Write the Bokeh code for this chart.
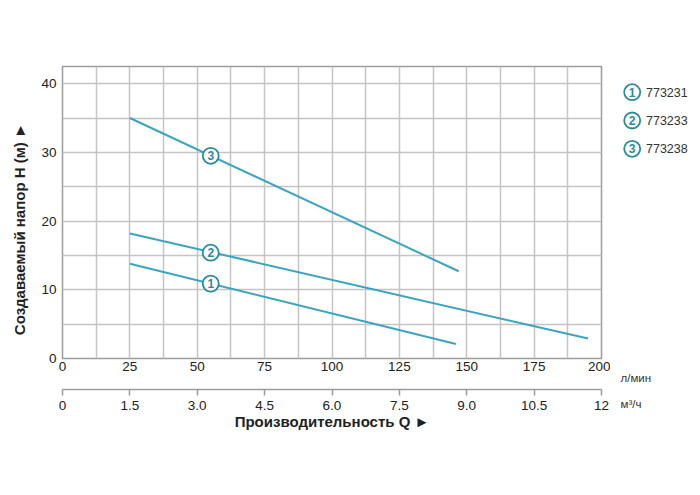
from bokeh.plotting import figure
from bokeh.models import Range1d, LinearAxis, FixedTicker, ColumnDataSource
from bokeh.layouts import row
from bokeh.core.properties import value
from bokeh.embed import file_html
from bokeh.resources import INLINE

# ---------------- data ----------------
series_names = ["773231", "773233", "773238"]
series_ids = ["1", "2", "3"]
s1_q = [25, 146]
s1_h = [13.8, 2.1]
s2_q = [25, 195]
s2_h = [18.2, 2.9]
s3_q = [25, 147]
s3_h = [35.0, 12.7]
marker_q = [55, 55, 55]
marker_h = [10.9, 15.4, 29.5]

q_lmin_ticks = [0, 25, 50, 75, 100, 125, 150, 175, 200]
q_m3h_ticks = [0, 1.5, 3.0, 4.5, 6.0, 7.5, 9.0, 10.5, 12]
q_m3h_labels = ["0", "1.5", "3.0", "4.5", "6.0", "7.5", "9.0", "10.5", "12"]
h_ticks = [0, 10, 20, 30, 40]
grid_q = [i * 12.5 for i in range(17)]
grid_h = [i * 5 for i in range(9)]

x_title = "Производительность Q ►"
y_title = "Создаваемый напор H (м) ►"
unit_lmin = "л/мин"
unit_m3h = "м³/ч"

FONT = "Liberation Sans"
LINE_C = "#3ba3c4"
MARK_C = "#2b8a9e"
TEXT_C = "#222222"
GRID_C = "#c4c4c4"
FRAME_C = "#9c9c9c"

H = 470
p = figure(width=610, height=H, x_range=Range1d(0, 200), y_range=Range1d(0, 42.5),
           output_backend="svg", toolbar_location=None,
           min_border_left=62, min_border_right=9, min_border_top=66, min_border_bottom=112,
           background_fill_color="white", border_fill_color="white")
p.frame_align = False
p.outline_line_color = FRAME_C
p.outline_line_width = 1.5

# grids
p.xgrid.ticker = FixedTicker(ticks=grid_q)
p.ygrid.ticker = FixedTicker(ticks=grid_h)
p.grid.grid_line_color = GRID_C
p.grid.grid_line_width = 1.5

# y axis
p.yaxis.ticker = FixedTicker(ticks=h_ticks)
p.yaxis.axis_line_color = None
p.yaxis.major_tick_line_color = None
p.yaxis.major_tick_out = 0
p.yaxis.major_tick_in = 0
p.yaxis.minor_tick_line_color = None
p.yaxis.major_label_standoff = 6
p.yaxis.major_label_text_font = FONT
p.yaxis.major_label_text_font_size = "13.5px"
p.yaxis.major_label_text_color = TEXT_C
p.yaxis.axis_label = y_title + "\u00a0" * 8
p.yaxis.axis_label_text_font = FONT
p.yaxis.axis_label_text_font_size = "15px"
p.yaxis.axis_label_text_font_style = "bold"
p.yaxis.axis_label_text_color = TEXT_C
p.yaxis.axis_label_standoff = 10

# primary x axis (l/min)
xa = p.xaxis[0]
xa.ticker = FixedTicker(ticks=q_lmin_ticks)
xa.axis_line_color = None
xa.major_tick_line_color = None
xa.major_tick_out = 0
xa.major_tick_in = 0
xa.minor_tick_line_color = None
xa.major_label_standoff = 3
xa.major_label_text_font = FONT
xa.major_label_text_font_size = "13.5px"
xa.major_label_text_color = TEXT_C
xa.axis_label = unit_lmin
xa.axis_label_text_alpha = 0.0
xa.axis_label_text_font_size = "10px"
xa.axis_label_standoff = 2

# secondary x axis (m3/h)
p.extra_x_ranges = {"m3": Range1d(0, 12)}
xb = LinearAxis(x_range_name="m3")
xb.ticker = FixedTicker(ticks=q_m3h_ticks)
xb.major_label_overrides = {t: l for t, l in zip(q_m3h_ticks, q_m3h_labels)}
xb.axis_line_color = FRAME_C
xb.axis_line_width = 1.5
xb.major_tick_line_color = FRAME_C
xb.major_tick_line_width = 1.5
xb.major_tick_in = 0
xb.major_tick_out = 6
xb.minor_tick_line_color = None
xb.major_label_standoff = 5
xb.major_label_text_font = FONT
xb.major_label_text_font_size = "13.5px"
xb.major_label_text_color = TEXT_C
xb.axis_label = x_title
xb.axis_label_text_font = FONT
xb.axis_label_text_font_size = "15px"
xb.axis_label_text_font_style = "bold"
xb.axis_label_text_color = TEXT_C
xb.axis_label_standoff = 0
p.add_layout(xb, "below")

# curves
for q, h in [(s1_q, s1_h), (s2_q, s2_h), (s3_q, s3_h)]:
    p.line(q, h, line_color=LINE_C, line_width=2)

msrc = ColumnDataSource(dict(x=marker_q, y=marker_h, t=series_ids))
p.scatter("x", "y", source=msrc, size=16, fill_color="white", line_color=MARK_C, line_width=1.8)
p.text("x", "y", text="t", source=msrc, text_align="center", text_baseline="middle",
       text_font=value(FONT), text_font_style="bold", text_font_size="12px", text_color=MARK_C)

# legend / units panel (pixel coordinates)
lg = figure(width=84, height=H, x_range=Range1d(0, 84), y_range=Range1d(H, 0),
            output_backend="svg", toolbar_location=None, min_border=0,
            x_axis_type=None, y_axis_type=None, outline_line_color=None,
            background_fill_color="white", border_fill_color="white")
lg.frame_align = False
lg.grid.visible = False
leg_y = [91.7, 120, 148.3]
lsrc = ColumnDataSource(dict(x=[21.7] * 3, y=leg_y, t=series_ids, n=series_names, tx=[35.5] * 3))
lg.scatter("x", "y", source=lsrc, size=16, fill_color="white", line_color=MARK_C, line_width=1.8)
lg.text("x", "y", text="t", source=lsrc, text_align="center", text_baseline="middle",
        text_font=value(FONT), text_font_style="bold", text_font_size="12px", text_color=MARK_C)
lg.text("tx", "y", text="n", source=lsrc, text_align="left", text_baseline="middle",
        text_font=value(FONT), text_font_size="12.5px", text_color="#333333")
usrc = ColumnDataSource(dict(x=[10, 10], y=[377, 403], t=[unit_lmin, unit_m3h]))
lg.text("x", "y", text="t", source=usrc, text_align="left", text_baseline="middle",
        text_font=value(FONT), text_font_size="11.5px", text_color="#333333")

layout = row(p, lg)
open("out.html", "w").write(file_html(layout, INLINE))
